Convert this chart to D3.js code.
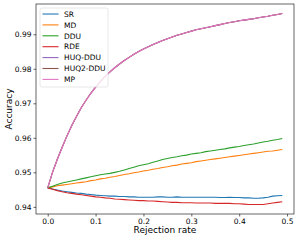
<!DOCTYPE html>
<html>
<head>
<meta charset="utf-8">
<script src="https://cdn.jsdelivr.net/npm/d3@7"></script>
<style>
  html, body { margin: 0; padding: 0; background: #fff; }
  svg { display: block; font-family: "DejaVu Sans", sans-serif; }
</style>
</head>
<body>
<svg id="chart" width="300" height="240"></svg>
<script>
// rejection rate (x)
const rejection = [
  0.00, 0.01, 0.02, 0.03, 0.04, 0.05, 0.06, 0.07, 0.08, 0.09,
  0.10, 0.11, 0.12, 0.13, 0.14, 0.15, 0.16, 0.17, 0.18, 0.19,
  0.20, 0.21, 0.22, 0.23, 0.24, 0.25, 0.26, 0.27, 0.28, 0.29,
  0.30, 0.31, 0.32, 0.33, 0.34, 0.35, 0.36, 0.37, 0.38, 0.39,
  0.40, 0.41, 0.42, 0.43, 0.44, 0.45, 0.46, 0.47, 0.48, 0.49
]

const SR = [
  0.9455, 0.9452, 0.9449, 0.9446, 0.9444, 0.9442, 0.9440, 0.9439, 0.9437, 0.9436,
  0.9434, 0.9433, 0.9432, 0.9431, 0.9431, 0.9430, 0.9430, 0.9429, 0.9429, 0.9428,
  0.9428, 0.9428, 0.9428, 0.9429, 0.9429, 0.9428, 0.9428, 0.9429, 0.9428, 0.9428,
  0.9428, 0.9428, 0.9428, 0.9428, 0.9428, 0.9428, 0.9427, 0.9427, 0.9428, 0.9427,
  0.9427, 0.9426, 0.9426, 0.9425, 0.9425, 0.9426, 0.9428, 0.9431, 0.9432, 0.9433
]
const MD = [
  0.9455, 0.9458, 0.9461, 0.9463, 0.9465, 0.9467, 0.9469, 0.9471, 0.9473, 0.9476,
  0.9478, 0.9481, 0.9483, 0.9486, 0.9488, 0.9491, 0.9494, 0.9496, 0.9499, 0.9501,
  0.9504, 0.9506, 0.9509, 0.9511, 0.9514, 0.9516, 0.9519, 0.9521, 0.9524, 0.9526,
  0.9528, 0.9531, 0.9533, 0.9535, 0.9537, 0.9539, 0.9541, 0.9543, 0.9545, 0.9547,
  0.9549, 0.9551, 0.9553, 0.9555, 0.9557, 0.9559, 0.9561, 0.9562, 0.9564, 0.9566
]
const DDU = [
  0.9455, 0.9460, 0.9465, 0.9469, 0.9472, 0.9475, 0.9478, 0.9481, 0.9484, 0.9487,
  0.9490, 0.9493, 0.9495, 0.9497, 0.9500, 0.9503, 0.9507, 0.9511, 0.9515, 0.9519,
  0.9522, 0.9525, 0.9529, 0.9533, 0.9537, 0.9540, 0.9543, 0.9545, 0.9548, 0.9550,
  0.9553, 0.9555, 0.9557, 0.9560, 0.9562, 0.9564, 0.9566, 0.9568, 0.9571, 0.9573,
  0.9575, 0.9578, 0.9580, 0.9582, 0.9585, 0.9588, 0.9590, 0.9593, 0.9595, 0.9598
]
const RDE = [
  0.9455, 0.9451, 0.9447, 0.9444, 0.9441, 0.9439, 0.9437, 0.9435, 0.9433, 0.9431,
  0.9429, 0.9428, 0.9426, 0.9425, 0.9423, 0.9422, 0.9421, 0.9420, 0.9419, 0.9418,
  0.9418, 0.9417, 0.9417, 0.9416, 0.9415, 0.9414, 0.9413, 0.9413, 0.9412, 0.9412,
  0.9412, 0.9411, 0.9411, 0.9411, 0.9411, 0.9410, 0.9410, 0.9410, 0.9410, 0.9409,
  0.9409, 0.9408, 0.9407, 0.9407, 0.9407, 0.9407, 0.9409, 0.9411, 0.9413, 0.9415
]
// HUQ-DDU, HUQ2-DDU and MP overlap: only MP (drawn last) is visible
const MP = [
  0.9455, 0.9500, 0.9538, 0.9572, 0.9605, 0.9635, 0.9662, 0.9687, 0.9709, 0.9729,
  0.9747, 0.9763, 0.9778, 0.9791, 0.9803, 0.9814, 0.9824, 0.9833, 0.9842, 0.9850,
  0.9857, 0.9864, 0.9870, 0.9876, 0.9882, 0.9887, 0.9892, 0.9897, 0.9901, 0.9905,
  0.9909, 0.9913, 0.9916, 0.9919, 0.9922, 0.9925, 0.9928, 0.9931, 0.9934, 0.9936,
  0.9939, 0.9941, 0.9943, 0.9945, 0.9948, 0.9950, 0.9952, 0.9955, 0.9957, 0.9960
]
const HUQ_DDU = MP.slice()
const HUQ2_DDU = MP.slice()

const seriesNames = ['SR', 'MD', 'DDU', 'RDE', 'HUQ-DDU', 'HUQ2-DDU', 'MP']
const seriesValues = [SR, MD, DDU, RDE, HUQ_DDU, HUQ2_DDU, MP]
const colors = ['#1f77b4', '#ff7f0e', '#2ca02c', '#d62728', '#9467bd', '#8c564b', '#e377c2']

const xTicks = [0.0, 0.1, 0.2, 0.3, 0.4, 0.5]
const yTicks = [0.94, 0.95, 0.96, 0.97, 0.98, 0.99]

const margin = { left: 36, top: 4, right: 294, bottom: 214 }

const svg = d3.select('#chart')

// matplotlib style 5% margins
const xExt = d3.extent(rejection)
const xPad = (xExt[1] - xExt[0]) * 0.05
const yExt = d3.extent(seriesValues.flat())
const yPad = (yExt[1] - yExt[0]) * 0.05

const x = d3.scaleLinear()
  .domain([xExt[0] - xPad, xExt[1] + xPad])
  .range([margin.left, margin.right])
const y = d3.scaleLinear()
  .domain([yExt[0] - yPad, yExt[1] + yPad])
  .range([margin.bottom, margin.top])

const line = d3.line()
  .x((d, i) => x(rejection[i]))
  .y(d => y(d))

svg.append('defs').append('clipPath').attr('id', 'clip')
  .append('rect')
  .attr('x', margin.left).attr('y', margin.top)
  .attr('width', margin.right - margin.left)
  .attr('height', margin.bottom - margin.top)

svg.append('g')
  .attr('clip-path', 'url(#clip)')
  .selectAll('path')
  .data(seriesValues)
  .enter()
  .append('path')
  .attr('d', d => line(d))
  .style('fill', 'none')
  .style('stroke', (d, i) => colors[i])
  .style('stroke-width', 1.1)

// axes
const xAxis = svg.append('g')
  .attr('transform', `translate(0,${margin.bottom})`)
  .call(d3.axisBottom(x).tickValues(xTicks).tickFormat(d3.format('.1f')).tickSizeInner(2.5).tickSizeOuter(0).tickPadding(2))
const yAxis = svg.append('g')
  .attr('transform', `translate(${margin.left},0)`)
  .call(d3.axisLeft(y).tickValues(yTicks).tickFormat(d3.format('.2f')).tickSizeInner(2.5).tickSizeOuter(0).tickPadding(2))

;[xAxis, yAxis].forEach(a => {
  a.select('.domain').remove()
  a.selectAll('line').style('stroke', '#000').style('stroke-width', 0.6)
  a.selectAll('text').style('font-size', '7.5px').style('fill', '#000').attr('font-family', 'DejaVu Sans')
})

// frame
svg.append('rect')
  .attr('x', margin.left).attr('y', margin.top)
  .attr('width', margin.right - margin.left)
  .attr('height', margin.bottom - margin.top)
  .style('fill', 'none')
  .style('stroke', '#000')
  .style('stroke-width', 0.6)

svg.append('text')
  .attr('x', (margin.left + margin.right) / 2)
  .attr('y', 233)
  .attr('text-anchor', 'middle')
  .style('font-size', '9px')
  .text('Rejection rate')

svg.append('text')
  .attr('transform', `translate(12,${(margin.top + margin.bottom) / 2}) rotate(-90)`)
  .attr('text-anchor', 'middle')
  .style('font-size', '9px')
  .text('Accuracy')

// legend
const legend = svg.append('g').attr('transform', 'translate(40,8)')
legend.append('rect')
  .attr('width', 68).attr('height', 79)
  .attr('rx', 2)
  .style('fill', 'rgba(255,255,255,0.8)')
  .style('stroke', '#d6d6d6')
  .style('stroke-width', 0.6)

const items = legend.selectAll('g.item')
  .data(seriesNames)
  .enter()
  .append('g')
  .attr('class', 'item')
  .attr('transform', (d, i) => `translate(0,${6 + i * 10.9})`)

items.append('line')
  .attr('x1', 2.5).attr('x2', 18.5)
  .style('stroke', (d, i) => colors[i])
  .style('stroke-width', 1.1)

items.append('text')
  .attr('x', 24)
  .attr('y', 2.7)
  .style('font-size', '7.5px')
  .text(d => d)
</script>
</body>
</html>
